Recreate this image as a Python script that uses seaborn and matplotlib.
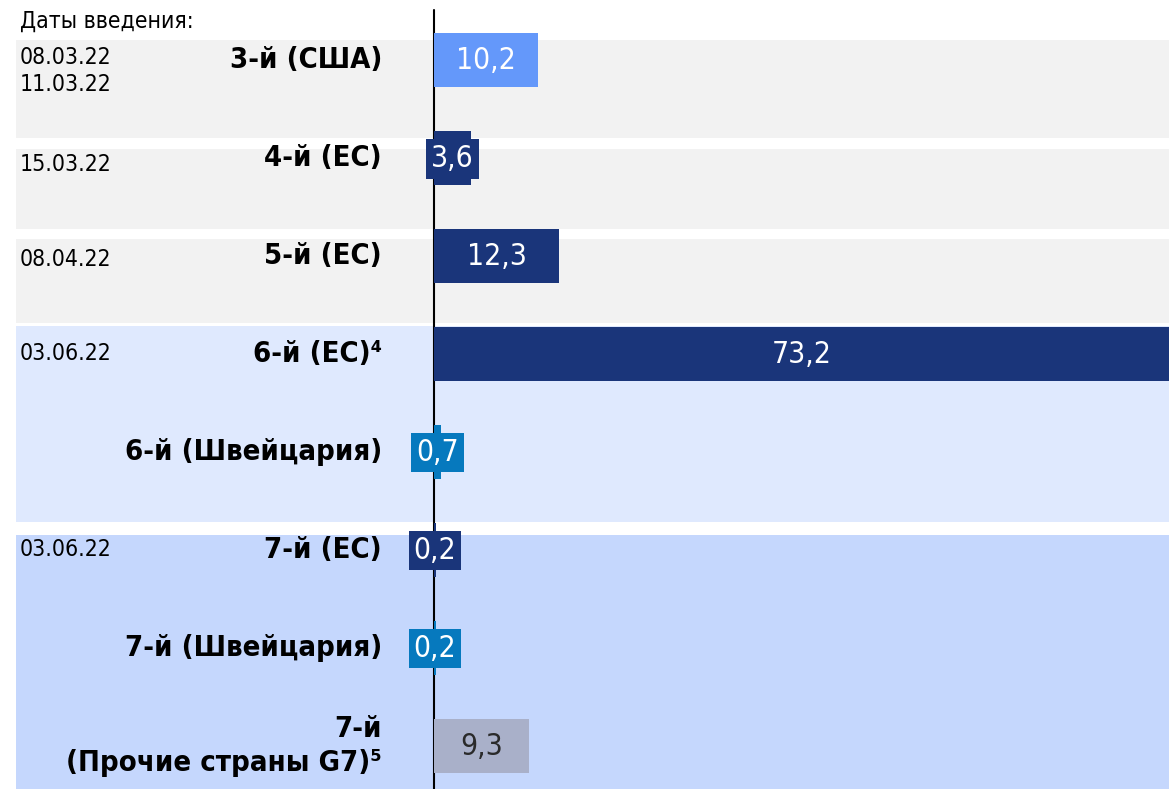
import matplotlib
matplotlib.use("Agg")
import matplotlib.pyplot as plt
from matplotlib.patches import Rectangle
import seaborn as sns
import pandas as pd

# ---- data ----
packages = ["3-й (США)", "4-й (ЕС)", "5-й (ЕС)", "6-й (ЕС)⁴", "6-й (Швейцария)",
            "7-й (ЕС)", "7-й (Швейцария)", "7-й\n(Прочие страны G7)⁵"]
values = [10.2, 3.6, 12.3, 73.2, 0.7, 0.2, 0.2, 9.3]
value_labels = ["10,2", "3,6", "12,3", "73,2", "0,7", "0,2", "0,2", "9,3"]
dates = ["08.03.22\n11.03.22", "15.03.22", "08.04.22", "03.06.22", "", "03.06.22", "", ""]
bar_colors = ["#6498fa", "#1a357a", "#1a357a", "#1a357a", "#0679be",
              "#1a357a", "#0679be", "#a9b0c9"]
label_colors = ["white", "white", "white", "white", "white", "white", "white", "#2a2a2a"]
header = "Даты введения:"

sns.set_theme(style="white")
plt.rcParams["font.family"] = ["DejaVu Sans"]
STRETCH = "condensed"

fig = plt.figure(figsize=(11.69, 7.89), dpi=100)
ax = fig.add_axes([0, 0, 1, 1])

df = pd.DataFrame({"pkg": packages, "val": values})
sns.barplot(data=df, x="val", y="pkg", hue="pkg", palette=bar_colors,
            legend=False, orient="h", width=0.55, ax=ax, zorder=3,
            saturation=1, linewidth=0, edgecolor="none")

ax.set_xlim(-42.55, 72.06)
ax.set_ylim(7.44, -0.612)
ax.axis("off")

# background bands
bands = [(-0.204, 0.796, "#f2f2f2"), (0.908, 1.724, "#f2f2f2"),
         (1.827, 2.684, "#f2f2f2"), (2.714, 4.714, "#dfe9fe"),
         (4.847, 7.6, "#c5d7fd")]
for y0, y1, c in bands:
    ax.add_patch(Rectangle((-40.98, y0), 200, y1 - y0, facecolor=c,
                           edgecolor="none", zorder=0))

# vertical zero line
ax.plot([0, 0], [-0.51, 7.6], color="black", lw=1.5, zorder=2)

# value labels
for i, (v, lab, c, tc) in enumerate(zip(values, value_labels, bar_colors, label_colors)):
    xc = min(v, 72.06) / 2
    ax.text(xc, i + 0.01, lab, ha="center", va="center", color=tc,
            fontsize=21.5, fontstretch=STRETCH, zorder=5,
            bbox=dict(boxstyle="square,pad=0.17", facecolor=c, edgecolor="none"))

# category labels
for i, p in enumerate(packages):
    ax.text(-5.1, i, p, ha="right", va="center", fontsize=21,
            fontweight="bold", fontstretch=STRETCH, color="black",
            linespacing=1.3, zorder=5)

# dates
date_offsets = [0.11, 0.07, 0.04, 0.0, 0, 0.0, 0, 0]
for i, (d, off) in enumerate(zip(dates, date_offsets)):
    if d:
        ax.text(-40.6, i + off, d, ha="left", va="center", fontsize=16.5,
                fontstretch=STRETCH, color="black", linespacing=1.2, zorder=5)

ax.text(-40.6, -0.39, header, ha="left", va="center", fontsize=16.5,
        fontstretch=STRETCH, color="black", zorder=5)

fig.savefig("out.png", dpi=100)
